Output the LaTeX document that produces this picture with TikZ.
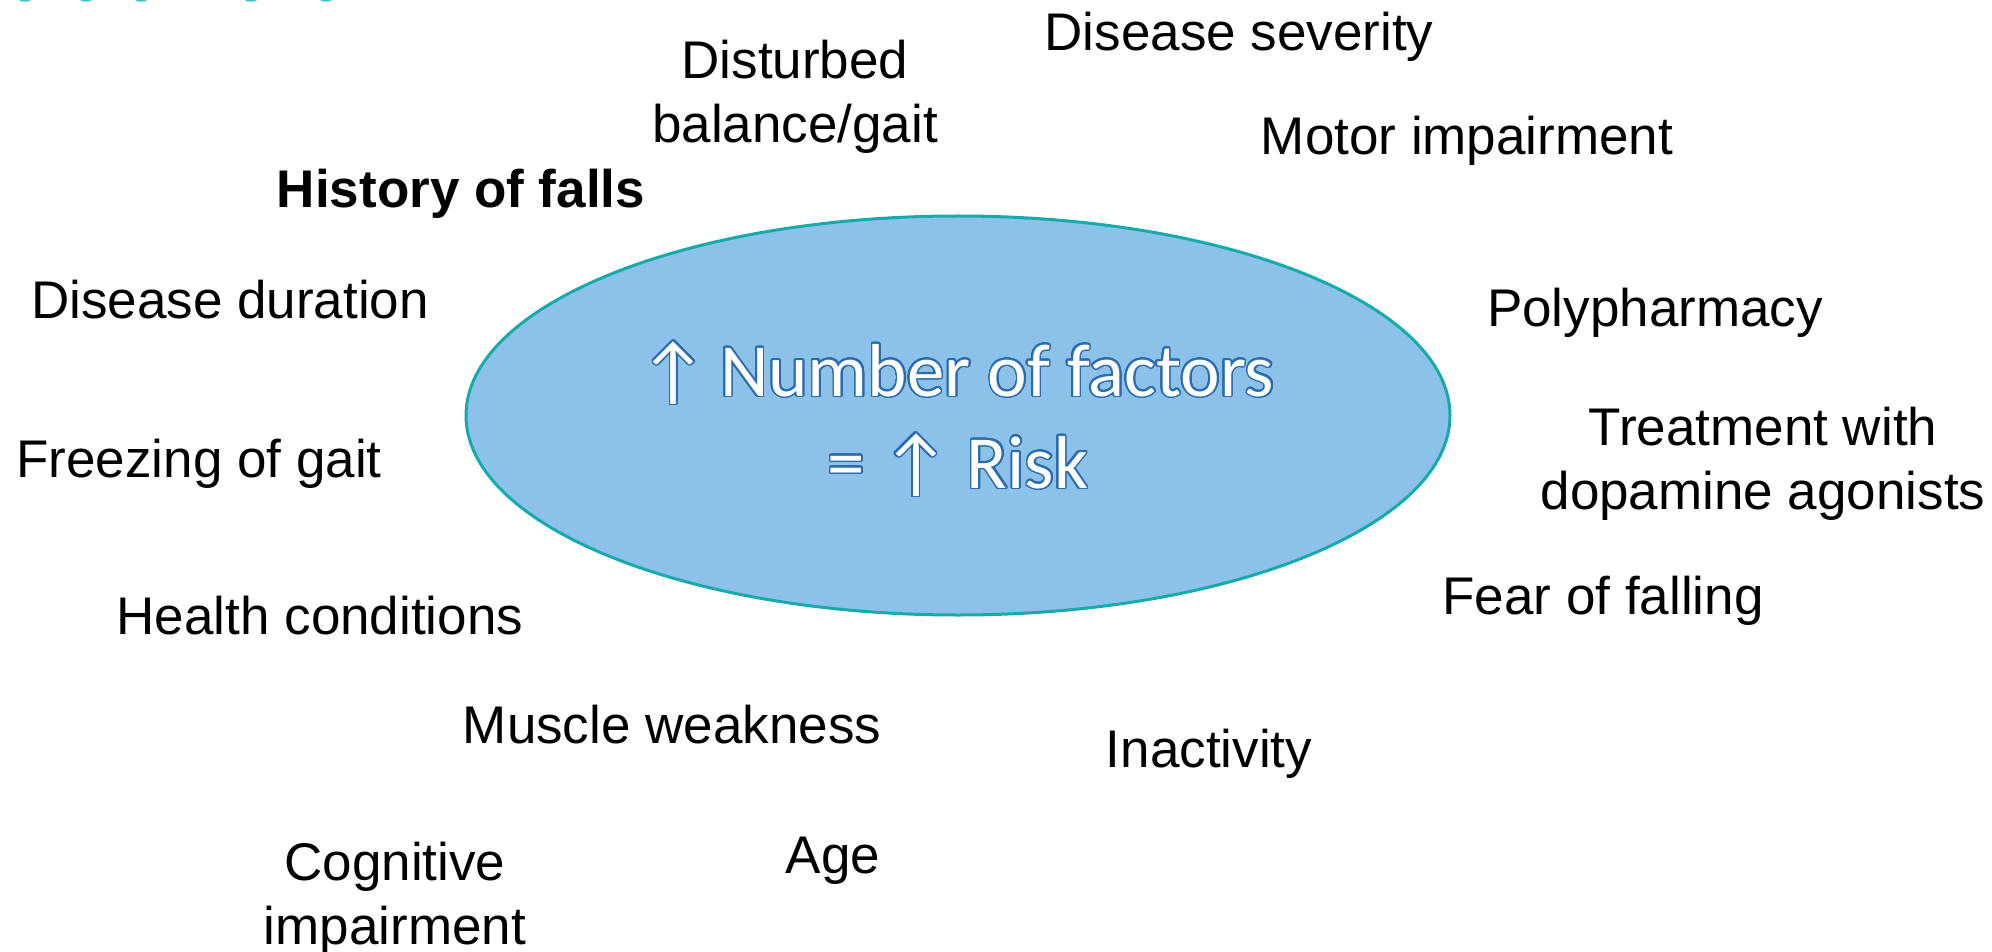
\documentclass[tikz,border=0pt]{standalone}
\usepackage{fontspec}
\setmainfont{Liberation Sans}
\newfontfamily\calib{Carlito}
\usepackage{contour}
\contourlength{0.8pt}
\contournumber{32}
\usetikzlibrary{shapes.geometric}
\definecolor{ellfill}{HTML}{8CC1EA}
\definecolor{elldraw}{HTML}{17AAAA}
\definecolor{outblue}{HTML}{2A6CAE}
\definecolor{titlecyan}{HTML}{3FC3CF}
\begin{document}
\begin{tikzpicture}[x=0.5pt,y=-0.5pt,
  factor/.style={anchor=base,inner sep=0pt,align=center,
    font=\fontsize{26.5pt}{32pt}\selectfont,text=black},
  central/.style={anchor=base,inner sep=0pt,
    font=\calib\fontsize{37.5pt}{46pt}\selectfont,text=white}]
\useasboundingbox (0,0) rectangle (1992,952);
\fill[white] (0,0) rectangle (1992,952);
% cut-off title fragments at the top edge
\foreach \xx in {25,86,141,251,326} \fill[titlecyan] (\xx,0) ellipse (6 and 1.6);
% central ellipse
\node[ellipse,draw=elldraw,fill=ellfill,line width=1.5pt,minimum width=492pt,minimum height=199.5pt,inner sep=0pt] (ell) at (958,415.5) {};
\node[central] (l1) at (957,396) {\contour{outblue}{↑\,Number of factors}};
\node[central] (l2) at (958,488) {\contour{outblue}{= ↑ Risk}};
% factors
\node[factor] (dist) at (795,143) {Disturbed\\balance/gait};
\node[factor] (sev) at (1239,51) {Disease severity};
\node[factor] (mot) at (1467,155) {Motor impairment};
\node[factor,font=\fontsize{26.5pt}{32pt}\selectfont\bfseries] (hist) at (461,208) {History of falls};
\node[factor] (dur) at (230,319) {Disease duration};
\node[factor] (poly) at (1655,327) {Polypharmacy};
\node[factor] (treat) at (1763,509) {Treatment with\\dopamine agonists};
\node[factor] (frz) at (199,477) {Freezing of gait};
\node[factor] (fear) at (1603,614) {Fear of falling};
\node[factor] (hlth) at (320,634) {Health conditions};
\node[factor] (musc) at (672,743) {Muscle weakness};
\node[factor] (inact) at (1209,767) {Inactivity};
\node[factor] (cog) at (395,944) {Cognitive\\impairment};
\node[factor] (age) at (833,873) {Age};
\end{tikzpicture}
\end{document}
